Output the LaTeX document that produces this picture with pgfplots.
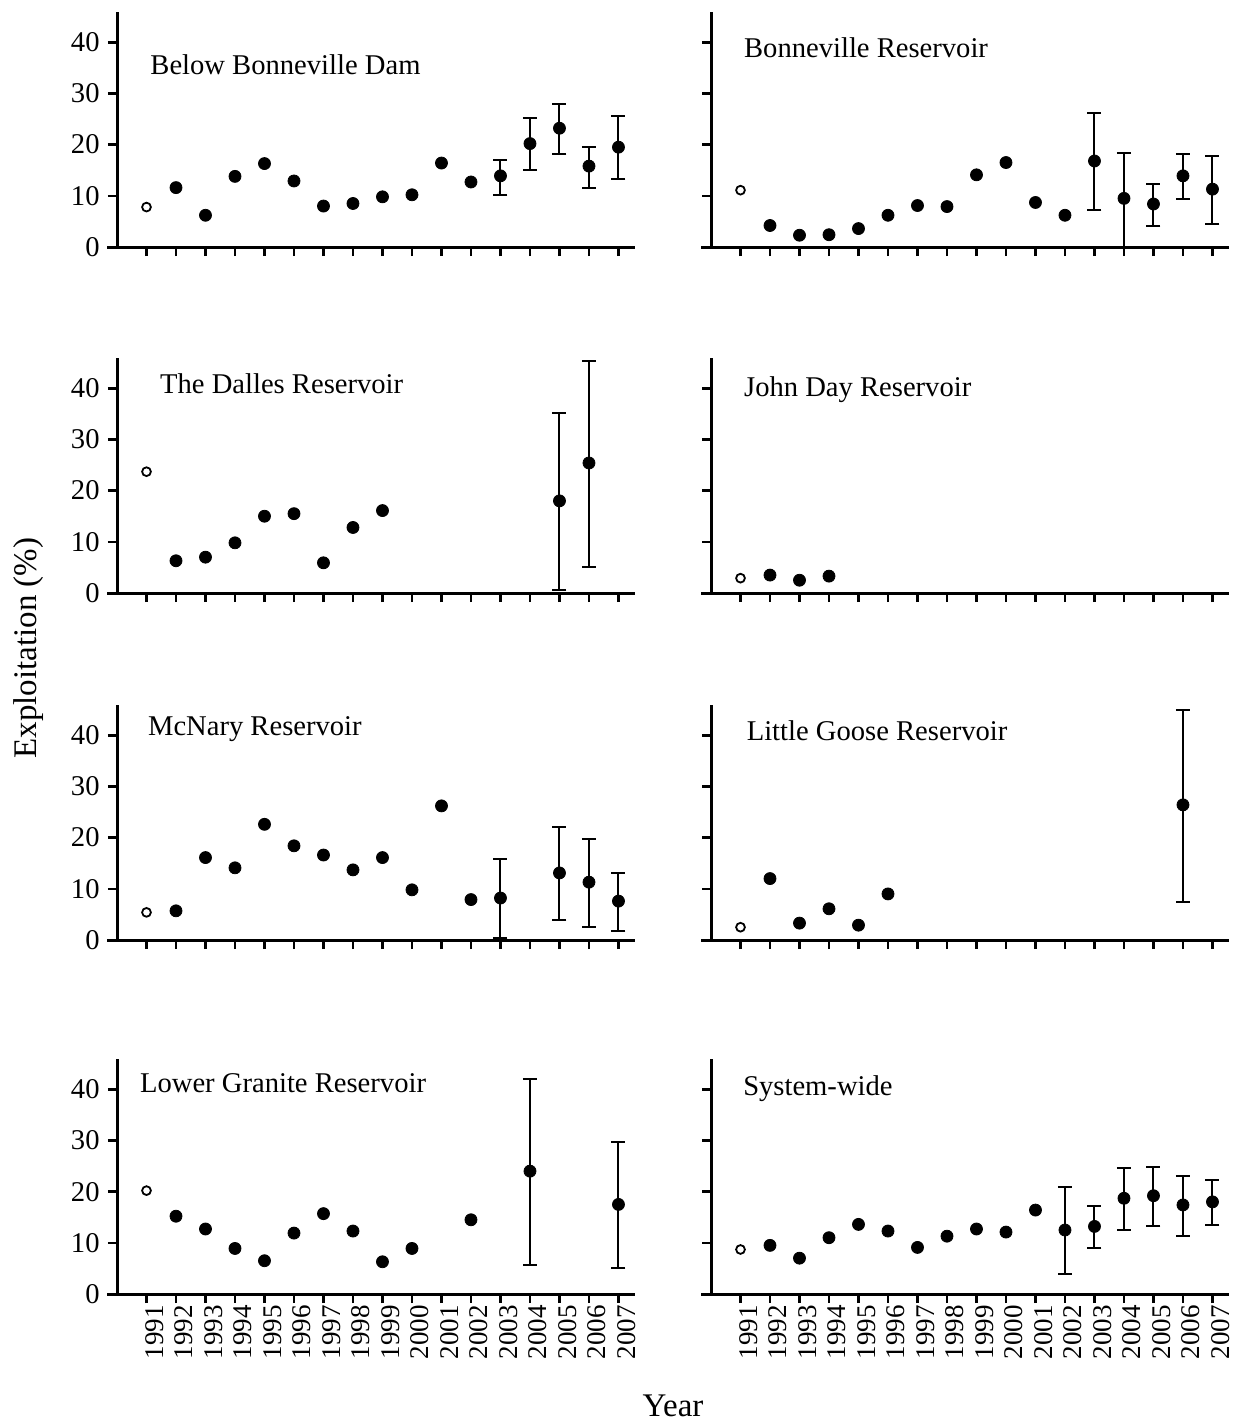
\documentclass[border=0pt]{standalone}
\usepackage{pgfplots}
\pgfplotsset{compat=1.18}
\usepackage{fontspec}
\setmainfont{Liberation Serif}

\tikzset{ttl/.style={anchor=base west, inner sep=0pt, font=\fontsize{14.3}{16}\selectfont}}
\pgfplotsset{
  panel/.style={
    scale only axis, width=258.85pt, height=117.75pt,
    xmin=1990, xmax=2007.55, ymin=0, ymax=46,
    axis x line*=bottom, axis y line*=left,
    axis line style={line width=1.5pt, black},
    x axis line style={shorten <=-5pt},
    xtick={1991,...,2007}, ytick={0,10,20,30,40},
    tick align=outside, major tick length=4.5pt,
    every tick/.style={black, line width=1.3pt},
    xticklabels={},
    yticklabels={0,10,20,30,40},
    yticklabel style={font=\fontsize{14.3}{16}\selectfont\rmfamily, inner sep=1pt, xshift=-3pt},
    clip=false, anchor=south west,
  },
  noylab/.style={yticklabels={}},
  xlab/.style={xticklabels={1991,1992,1993,1994,1995,1996,1997,1998,1999,2000,2001,2002,2003,2004,2005,2006,2007},
    xticklabel style={rotate=90, anchor=east, inner sep=1pt, yshift=-4pt, font=\fontsize{13.5}{15}\selectfont\rmfamily}},
  filled/.style={only marks, mark=*, mark size=3pt, black, mark options={fill=black}},
  open/.style={only marks, mark=o, mark size=2.2pt, black, mark options={line width=0.9pt, fill=white}},
  ebar/.style={only marks, mark=*, mark size=3pt, black, mark options={fill=black},
    error bars/.cd, y dir=both, y explicit, error mark=-,
    error bar style={line width=1pt, black},
    error mark options={rotate=90, mark size=3.5pt, line width=1pt, black}},
}

\begin{document}
\begin{tikzpicture}
\path[use as bounding box] (0pt,0pt) rectangle (616.5pt,-712.5pt);

% Row 1 left: Below Bonneville Dam
\begin{axis}[panel, at={(58.5pt,-123.5pt)}]
\addplot[open] coordinates {(1991,7.8)};
\addplot[filled] coordinates {(1992,11.6) (1993,6.2) (1994,13.8) (1995,16.3) (1996,12.9) (1997,8.0) (1998,8.5) (1999,9.8) (2000,10.2) (2001,16.4) (2002,12.7)};
\addplot[ebar] table[x=x, y=y, y error plus=ep, y error minus=em] {
x y ep em
2003 13.9 3.0 3.7
2004 20.2 5.0 5.2
2005 23.2 4.7 5.1
2006 15.8 3.8 4.2
2007 19.5 6.1 6.3
};
\node[ttl] at (axis cs:1991.12,33.6) {Below Bonneville Dam};
\end{axis}

% Row 1 right: Bonneville Reservoir
\begin{axis}[panel, noylab, at={(355.5pt,-123.5pt)}]
\addplot[open] coordinates {(1991,11.1)};
\addplot[filled] coordinates {(1992,4.2) (1993,2.3) (1994,2.4) (1995,3.6) (1996,6.2) (1997,8.1) (1998,7.9) (1999,14.1) (2000,16.5) (2001,8.7) (2002,6.2)};
\addplot[ebar] table[x=x, y=y, y error plus=ep, y error minus=em] {
x y ep em
2003 16.8 9.3 9.6
2004 9.5 8.9 9.5
2005 8.4 4.0 4.3
2006 13.9 4.2 4.6
2007 11.3 6.5 6.9
};
\node[ttl] at (axis cs:1991.11,37.1) {Bonneville Reservoir};
\end{axis}

% Row 2 left: The Dalles Reservoir
\begin{axis}[panel, at={(58.5pt,-296.5pt)}]
\addplot[open] coordinates {(1991,23.7)};
\addplot[filled] coordinates {(1992,6.3) (1993,7.0) (1994,9.8) (1995,15.0) (1996,15.5) (1997,5.9) (1998,12.8) (1999,16.1)};
\addplot[ebar] table[x=x, y=y, y error plus=ep, y error minus=em] {
x y ep em
2005 18.0 17.2 17.4
2006 25.4 20.0 20.4
};
\node[ttl] at (axis cs:1991.45,38.9) {The Dalles Reservoir};
\end{axis}

% Row 2 right: John Day Reservoir
\begin{axis}[panel, noylab, at={(355.5pt,-296.5pt)}]
\addplot[open] coordinates {(1991,2.9)};
\addplot[filled] coordinates {(1992,3.5) (1993,2.5) (1994,3.3)};
\node[ttl] at (axis cs:1991.11,38.3) {John Day Reservoir};
\end{axis}

% Row 3 left: McNary Reservoir
\begin{axis}[panel, at={(58.5pt,-470pt)}]
\addplot[open] coordinates {(1991,5.4)};
\addplot[filled] coordinates {(1992,5.7) (1993,16.1) (1994,14.1) (1995,22.6) (1996,18.4) (1997,16.6) (1998,13.7) (1999,16.1) (2000,9.8) (2001,26.2) (2002,7.9)};
\addplot[ebar] table[x=x, y=y, y error plus=ep, y error minus=em] {
x y ep em
2003 8.2 7.7 7.8
2005 13.1 9.0 9.2
2006 11.3 8.5 8.7
2007 7.6 5.5 5.8
};
\node[ttl] at (axis cs:1991.04,40.0) {McNary Reservoir};
\end{axis}

% Row 3 right: Little Goose Reservoir
\begin{axis}[panel, noylab, at={(355.5pt,-470pt)}]
\addplot[open] coordinates {(1991,2.5)};
\addplot[filled] coordinates {(1992,12.0) (1993,3.3) (1994,6.1) (1995,2.9) (1996,9.0)};
\addplot[ebar] table[x=x, y=y, y error plus=ep, y error minus=em] {
x y ep em
2006 26.4 18.6 18.9
};
\node[ttl] at (axis cs:1991.2,38.9) {Little Goose Reservoir};
\end{axis}

% Row 4 left: Lower Granite Reservoir
\begin{axis}[panel, xlab, at={(58.5pt,-647pt)}]
\addplot[open] coordinates {(1991,20.2)};
\addplot[filled] coordinates {(1992,15.2) (1993,12.7) (1994,8.9) (1995,6.5) (1996,11.9) (1997,15.7) (1998,12.3) (1999,6.3) (2000,8.9) (2002,14.5)};
\addplot[ebar] table[x=x, y=y, y error plus=ep, y error minus=em] {
x y ep em
2004 24.0 18.0 18.3
2007 17.5 12.1 12.5
};
\node[ttl] at (axis cs:1990.77,39.3) {Lower Granite Reservoir};
\end{axis}

% Row 4 right: System-wide
\begin{axis}[panel, noylab, xlab, at={(355.5pt,-647pt)}]
\addplot[open] coordinates {(1991,8.7)};
\addplot[filled] coordinates {(1992,9.5) (1993,7.0) (1994,11.0) (1995,13.6) (1996,12.3) (1997,9.1) (1998,11.3) (1999,12.7) (2000,12.1) (2001,16.4)};
\addplot[ebar] table[x=x, y=y, y error plus=ep, y error minus=em] {
x y ep em
2002 12.5 8.4 8.6
2003 13.2 4.0 4.3
2004 18.7 6.0 6.2
2005 19.2 5.7 5.9
2006 17.4 5.6 6.0
2007 18.0 4.3 4.5
};
\node[ttl] at (axis cs:1991.08,38.7) {System-wide};
\end{axis}

\node[rotate=90, font=\fontsize{16.5}{19}\selectfont] at (14.5pt,-324pt) {Exploitation (\%)};
\node[font=\fontsize{16.5}{19}\selectfont] at (336.5pt,-703pt) {Year};
\end{tikzpicture}
\end{document}
